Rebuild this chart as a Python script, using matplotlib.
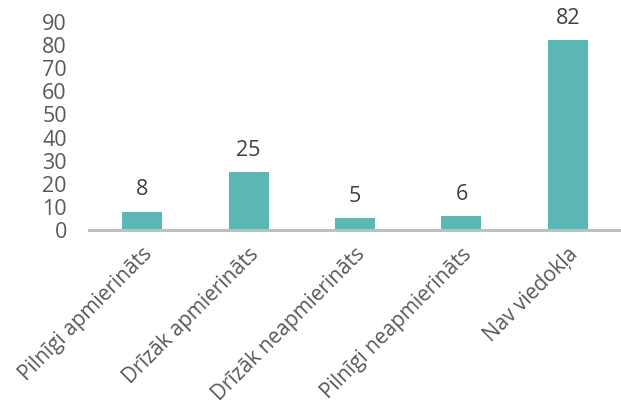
import matplotlib
matplotlib.use("Agg")
import matplotlib.pyplot as plt

categories = ["Pilnīgi apmierināts", "Drīzāk apmierināts", "Drīzāk neapmierināts",
              "Pilnīgi neapmierināts", "Nav viedokļa"]
values = [8, 25, 5, 6, 82]
yticks = [0, 10, 20, 30, 40, 50, 60, 70, 80, 90]

plt.rcParams['font.family'] = ['Open Sans', 'DejaVu Sans']

fig = plt.figure(figsize=(6.21, 4.05), dpi=100)
ax = fig.add_axes([0.1433, 0.432, 0.8567, 0.5137])

x = range(len(categories))
bars = ax.bar(x, values, width=0.375, color='#5BB8B4', zorder=2)
for xi, v in zip(x, values):
    ax.annotate(str(v), (xi, v), xytext=(0, 8), textcoords='offset points',
                ha='center', va='bottom', fontsize=15.5,
                color='#404040', annotation_clip=False)

ax.set_xlim(-0.5, 4.5)
ax.set_ylim(0, 90)
ax.set_yticks(yticks)
ax.set_yticklabels([str(t) for t in yticks], fontsize=15.5, color='#595959')
ax.set_xticks(list(x))
ax.set_xticklabels(categories, rotation=45, ha='right', rotation_mode='anchor',
                   fontsize=15, color='#595959')
ax.tick_params(axis='both', length=0)
ax.tick_params(axis='y', pad=16)
ax.tick_params(axis='x', pad=10)
for s in ['top', 'right', 'left']:
    ax.spines[s].set_visible(False)
ax.spines['bottom'].set_color('#BFBFBF')
ax.spines['bottom'].set_linewidth(2.2)

fig.savefig("out.png", dpi=100)
